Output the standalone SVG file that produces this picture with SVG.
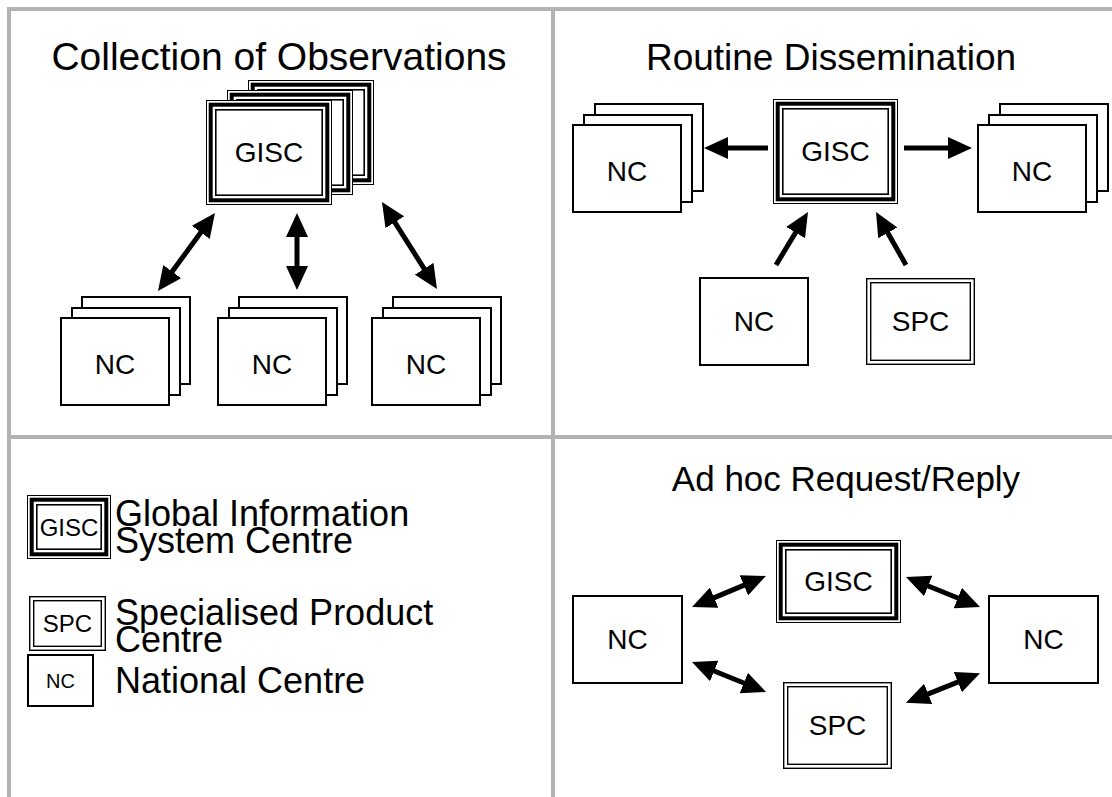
<svg xmlns="http://www.w3.org/2000/svg" width="1112" height="797" viewBox="0 0 1112 797">
<style>
.grid{stroke:#b3b3b3;stroke-width:4;fill:none}
.box{fill:#fff;stroke:#000;stroke-width:2}
.g1{fill:#fff;stroke:#000;stroke-width:1}
.g2{fill:none;stroke:#000;stroke-width:4}
.g3{fill:none;stroke:#000;stroke-width:1.6}
.s1{fill:#fff;stroke:#000;stroke-width:1.4}
.s2{fill:none;stroke:#000;stroke-width:1.4}
.t{font-family:"Liberation Sans",Arial,Helvetica,sans-serif;fill:#000}
.c{text-anchor:middle}
.title{font-size:37px}
.lbl{font-size:28px}
.leg{font-size:36px}
.arr{stroke:#000;stroke-width:5;fill:none}
</style>
<defs>
<marker id="ah" viewBox="0 0 24 22" refX="12" refY="11" markerWidth="24" markerHeight="22" markerUnits="userSpaceOnUse" orient="auto-start-reverse">
<path d="M0,0 L24,11 L0,22 Z" fill="#000"/>
</marker>
</defs>

<g id="grid">
<line class="grid" x1="7" y1="9" x2="1112" y2="9"/>
<line class="grid" x1="9" y1="7" x2="9" y2="797"/>
<line class="grid" x1="553" y1="7" x2="553" y2="797"/>
<line class="grid" x1="9" y1="437" x2="1112" y2="437"/>
</g>

<g id="titles">
<text class="t c" font-size="39" x="279" y="70">Collection of Observations</text>
<text class="t c title" x="831" y="70">Routine Dissemination</text>
<text class="t c" font-size="35" x="846" y="491">Ad hoc Request/Reply</text>
</g>

<!-- Panel 1 -->
<g id="p1-gisc">
<rect class="g1" x="248.5" y="80.5" width="125" height="104"/>
<rect class="g2" x="252.7" y="84.7" width="116.6" height="95.6"/>
<rect class="g3" x="257.8" y="89.8" width="106.4" height="85.4"/>
<rect class="g1" x="227.5" y="90.5" width="125" height="104"/>
<rect class="g2" x="231.7" y="94.7" width="116.6" height="95.6"/>
<rect class="g3" x="236.8" y="99.8" width="106.4" height="85.4"/>
<rect class="g1" x="206.5" y="100.5" width="125" height="104"/>
<rect class="g2" x="210.7" y="104.7" width="116.6" height="95.6"/>
<rect class="g3" x="215.8" y="109.8" width="106.4" height="85.4"/>
<text class="t c lbl" x="269" y="162">GISC</text>
</g>
<g id="p1-nc1">
<rect class="box" x="82" y="297" width="108" height="87"/>
<rect class="box" x="72" y="308" width="108" height="87"/>
<rect class="box" x="61" y="318" width="108" height="87"/>
<text class="t c lbl" x="115" y="374">NC</text>
</g>
<g id="p1-nc2">
<rect class="box" x="239" y="297" width="108" height="87"/>
<rect class="box" x="229" y="308" width="108" height="87"/>
<rect class="box" x="218" y="318" width="108" height="87"/>
<text class="t c lbl" x="272" y="374">NC</text>
</g>
<g id="p1-nc3">
<rect class="box" x="393" y="297" width="108" height="87"/>
<rect class="box" x="383" y="308" width="108" height="87"/>
<rect class="box" x="372" y="318" width="108" height="87"/>
<text class="t c lbl" x="426" y="374">NC</text>
</g>

<!-- Panel 2 -->
<g id="p2-gisc">
<rect class="g1" x="773.5" y="99.5" width="124" height="104"/>
<rect class="g2" x="777.7" y="103.7" width="115.6" height="95.6"/>
<rect class="g3" x="782.8" y="108.8" width="105.4" height="85.4"/>
<text class="t c lbl" x="835.5" y="161">GISC</text>
</g>
<g id="p2-ncl">
<rect class="box" x="595" y="104" width="108" height="87"/>
<rect class="box" x="584" y="115" width="108" height="87"/>
<rect class="box" x="573" y="125" width="108" height="87"/>
<text class="t c lbl" x="627" y="181">NC</text>
</g>
<g id="p2-ncr">
<rect class="box" x="1000" y="104" width="108" height="87"/>
<rect class="box" x="989" y="115" width="108" height="87"/>
<rect class="box" x="978" y="125" width="108" height="87"/>
<text class="t c lbl" x="1032" y="181">NC</text>
</g>
<g id="p2-nc">
<rect class="box" x="700" y="278" width="108" height="87"/>
<text class="t c lbl" x="754" y="331">NC</text>
</g>
<g id="p2-spc">
<rect class="s1" x="866.7" y="278.7" width="107.6" height="85.6"/>
<rect class="s2" x="870.7" y="282.7" width="99.6" height="77.6"/>
<text class="t c lbl" x="920.5" y="331">SPC</text>
</g>

<!-- Panel 4 -->
<g id="p4-gisc">
<rect class="g1" x="776.5" y="540.5" width="124" height="82"/>
<rect class="g2" x="780.7" y="544.7" width="115.6" height="73.6"/>
<rect class="g3" x="785.8" y="549.8" width="105.4" height="63.4"/>
<text class="t c lbl" x="838.5" y="591">GISC</text>
</g>
<g id="p4-spc">
<rect class="s1" x="783.7" y="682.7" width="107.6" height="85.6"/>
<rect class="s2" x="787.7" y="686.7" width="99.6" height="77.6"/>
<text class="t c lbl" x="837.5" y="735">SPC</text>
</g>
<g id="p4-ncl">
<rect class="box" x="573" y="596" width="109" height="87"/>
<text class="t c lbl" x="627.5" y="649">NC</text>
</g>
<g id="p4-ncr">
<rect class="box" x="989" y="596" width="109" height="87"/>
<text class="t c lbl" x="1043.5" y="649">NC</text>
</g>

<!-- Legend -->
<g id="leg-gisc">
<rect class="g1" x="27.5" y="495.5" width="83" height="63"/>
<rect class="g2" x="31.7" y="499.7" width="74.6" height="54.6"/>
<rect class="g3" x="36.8" y="504.8" width="64.4" height="44.4"/>
<text class="t c" font-size="24" x="69" y="536">GISC</text>
<text class="t leg" x="115" y="526">Global Information</text>
<text class="t leg" x="115" y="553">System Centre</text>
</g>
<g id="leg-spc">
<rect class="s1" x="29.7" y="596.7" width="75.6" height="53.6"/>
<rect class="s2" x="33.7" y="600.7" width="67.6" height="45.6"/>
<text class="t c" font-size="24" x="67.5" y="632">SPC</text>
<text class="t leg" x="115" y="625">Specialised Product</text>
<text class="t leg" x="115" y="652">Centre</text>
</g>
<g id="leg-nc">
<rect class="box" x="28" y="655" width="65" height="51"/>
<text class="t c" font-size="20" x="60.5" y="688">NC</text>
<text class="t leg" x="115" y="693">National Centre</text>
</g>

<g id="connectors">
<line class="arr" x1="165.1" y1="281.3" x2="207.9" y2="222.7" marker-start="url(#ah)" marker-end="url(#ah)"/>
<line class="arr" x1="297" y1="278" x2="297" y2="225" marker-start="url(#ah)" marker-end="url(#ah)"/>
<line class="arr" x1="388.4" y1="212.1" x2="430.6" y2="278.9" marker-start="url(#ah)" marker-end="url(#ah)"/>
<line class="arr" x1="768" y1="148" x2="716" y2="148" marker-end="url(#ah)"/>
<line class="arr" x1="904" y1="148" x2="960" y2="148" marker-end="url(#ah)"/>
<line class="arr" x1="776" y1="265" x2="801.8" y2="222.3" marker-end="url(#ah)"/>
<line class="arr" x1="906" y1="265" x2="881.9" y2="222.4" marker-end="url(#ah)"/>
<line class="arr" x1="703.1" y1="602.4" x2="754.9" y2="580.6" marker-start="url(#ah)" marker-end="url(#ah)"/>
<line class="arr" x1="703.1" y1="666.5" x2="754.9" y2="687.5" marker-start="url(#ah)" marker-end="url(#ah)"/>
<line class="arr" x1="917.1" y1="581.5" x2="968.9" y2="602.5" marker-start="url(#ah)" marker-end="url(#ah)"/>
<line class="arr" x1="917.1" y1="698.4" x2="968.9" y2="677.6" marker-start="url(#ah)" marker-end="url(#ah)"/>
</g>
</svg>
